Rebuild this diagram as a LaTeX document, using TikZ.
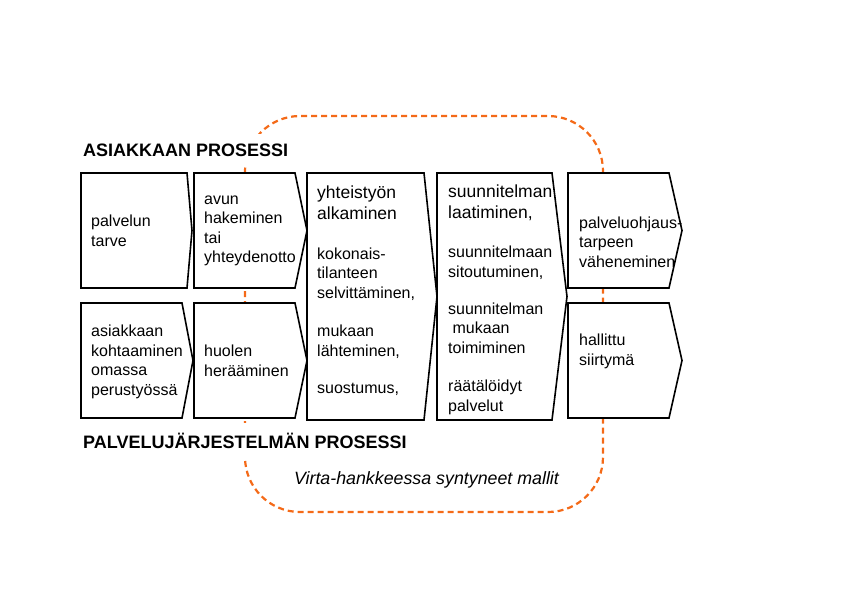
\documentclass[tikz,border=0pt]{standalone}
\usepackage{fontspec}
\setmainfont{Liberation Sans}
\definecolor{virtaorange}{RGB}{244,106,24}
\begin{document}
\begin{tikzpicture}[x=1bp,y=-1bp]
			\tikzstyle{box} = [draw, line width=1.6bp, fill=white, line join=miter]
			\tikzstyle{txt} = [anchor=west, align=left, inner sep=0, font=\fontsize{16bp}{19.5bp}\selectfont]
			\tikzstyle{head} = [txt, font=\fontsize{17.5bp}{21bp}\selectfont]
			\tikzstyle{otsikko} = [anchor=west, fill=white, inner xsep=0, inner ysep=10bp, font=\bfseries\fontsize{18bp}{21bp}\selectfont]
			\useasboundingbox (0,0) rectangle (842,595);
			
			\draw [virtaorange, line width=2.2bp, dash pattern=on 6bp off 4bp, rounded corners=55bp] (245,116) rectangle (603,512);
			
			\draw [box] (81,173) -- (187,173) -- (192,230.5) -- (187,288) -- (81,288) -- cycle;
			\draw [box] (194,173) -- (295,173) -- (307,230.5) -- (295,288) -- (194,288) -- cycle;
			\draw [box] (81,303) -- (182,303) -- (193,360.5) -- (182,418) -- (81,418) -- cycle;
			\draw [box] (194,303) -- (295,303) -- (307,360.5) -- (295,418) -- (194,418) -- cycle;
			\draw [box] (307,173) -- (424,173) -- (437,296.5) -- (424,420) -- (307,420) -- cycle;
			\draw [box] (437,173) -- (552,173) -- (567,296.5) -- (552,420) -- (437,420) -- cycle;
			\draw [box] (568,173) -- (669,173) -- (682,230.5) -- (669,288) -- (568,288) -- cycle;
			\draw [box] (568,303) -- (669,303) -- (682,360.5) -- (669,418) -- (568,418) -- cycle;
			
			\node [otsikko] (asiakas) at (83,150) {ASIAKKAAN PROSESSI};
			\node [otsikko] (jarjestelma) at (83,441) {PALVELUJÄRJESTELMÄN PROSESSI};
			
			\node [txt] (tarve) at (91,231) {palvelun\\tarve};
			\node [txt] (hakeminen) at (204,231) {avun\\hakeminen\\tai\\yhteydenotto};
			\node [txt] (kohtaaminen) at (91,362) {asiakkaan\\kohtaaminen\\omassa\\perustyössä};
			\node [txt] (huoli) at (204,361) {huolen\\herääminen};
			
			\node [head] (yhteistyo) at (317,202.5) {yhteistyön\\alkaminen};
			\node [txt] (tilanne) at (317,274) {kokonais-\\tilanteen\\selvittäminen,};
			\node [txt] (lahteminen) at (317,341.5) {mukaan\\lähteminen,};
			\node [txt] (suostumus) at (317,389) {suostumus,};
			
			\node [head] (laatiminen) at (448,202.5) {suunnitelman\\laatiminen,};
			\node [txt] (sitoutuminen) at (448,262.5) {suunnitelmaan\\sitoutuminen,};
			\node [txt] (toimiminen) at (448,328) {suunnitelman\\\ mukaan\\toimiminen};
			\node [txt] (palvelut) at (448,397.5) {räätälöidyt\\palvelut};
			
			\node [txt] (vaheneminen) at (579,242) {palveluohjaus-\\tarpeen\\väheneminen};
			\node [txt] (siirtyma) at (579,351.5) {hallittu\\siirtymä};
			
			\node [font=\itshape\fontsize{17.8bp}{21bp}\selectfont] (mallit) at (426.5,480) {Virta-hankkeessa syntyneet mallit};
			
		\end{tikzpicture}
\end{document}
